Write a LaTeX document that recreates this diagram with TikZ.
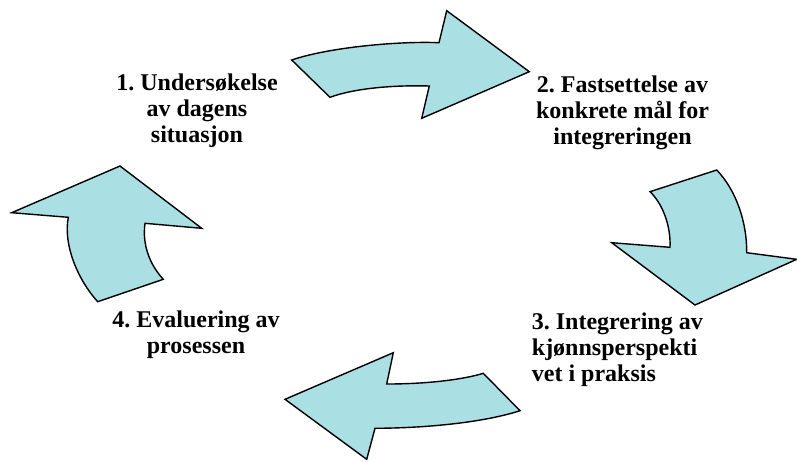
\documentclass[tikz,border=0pt]{standalone}
\usepackage{fontspec}
\setmainfont{Liberation Serif}
\frenchspacing
\definecolor{arrowfill}{RGB}{170,223,228}
\begin{document}
\begin{tikzpicture}[x=1pt,y=-1pt,
  arrowshape/.style={draw=black,fill=arrowfill,line width=1.4pt,line join=miter},
  label/.style={font=\bfseries\fontsize{24}{26}\selectfont,inner sep=0pt,anchor=base}]
\useasboundingbox (0,0) rectangle (797,461);
% top arrow (1 -> 2)
\path[arrowshape] (291.7,60) .. controls (330,47) and (400,41) .. (439,42.7)
  -- (446.7,10.7) -- (529.3,71.7) -- (421.7,118.3) -- (429.3,86)
  .. controls (395,85) and (355,88) .. (330,97.3) -- cycle;
% right arrow (2 -> 3)
\path[arrowshape] (650,191.7) -- (716.7,170)
  .. controls (736,190) and (747,222) .. (746.7,252.7)
  -- (796.7,259.3) -- (695,305) -- (611.7,242.7) -- (670,247.3)
  .. controls (671,225) and (662,203) .. (650,191.7) -- cycle;
% bottom arrow (3 -> 4)
\path[arrowshape] (483.3,373.3) -- (520,410.7)
  .. controls (485,422) and (430,428) .. (375,428.3)
  -- (366.7,459.3) -- (285,399.3) -- (393.3,352.7) -- (386.7,384)
  .. controls (430,384) and (465,379) .. (483.3,373.3) -- cycle;
% left arrow (4 -> 1)
\path[arrowshape] (11.7,212.7) -- (120,166) -- (201.7,228.3) -- (145,223.3)
  .. controls (142,245) and (150,265) .. (163.3,279.3)
  -- (97.7,301.7)
  .. controls (78,280) and (63,245) .. (68.3,217.3) -- cycle;
% labels (base anchor = baseline of last line)
\node[label,align=center] (s1) at (197,142.5) {1. Undersøkelse\\av dagens\\situasjon};
\node[label,align=center] (s2) at (622.5,144) {2. Fastsettelse av\\konkrete mål for\\integreringen};
\node[label,align=left,anchor=base west] (s3) at (531.7,381) {3. Integrering av\\kjønnsperspekti\\vet i praksis};
\node[label,align=center] (s4) at (196,353) {4. Evaluering av\\prosessen};
\end{tikzpicture}
\end{document}
